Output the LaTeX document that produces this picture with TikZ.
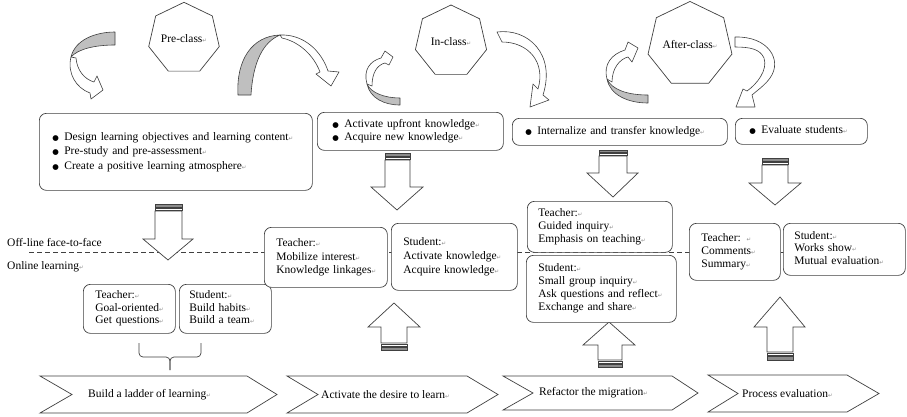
\documentclass[tikz,border=0pt]{standalone}
\usepackage{fontspec}
\setmainfont{Liberation Serif}
\newfontfamily\symf{DejaVu Sans}
\usetikzlibrary{shapes.geometric}
\newcommand\retm{{\symf\fontsize{5.5}{5.5}\selectfont\color{black!45}↵}}
\newcommand\bulm{\makebox[12pt][l]{\symf\fontsize{7.5}{7.5}\selectfont ●}}
\begin{document}
\begin{tikzpicture}[x=1pt,y=-1pt,
  ol/.style={draw=black!75, line width=0.7pt},
  bx/.style={ol, rounded corners=7pt, fill=white, align=left, anchor=north west, inner ysep=0pt, text=black},
  hept/.style={ol, regular polygon, regular polygon sides=7, inner sep=0pt, fill=white, font=\fontsize{11.5}{13}\selectfont, text=black},
  bandw/.style={ol, fill=white, line join=round, line width=0.6pt},
  bandg/.style={ol, fill=black!25, line join=round, line width=0.6pt},
  blk/.style={ol, fill=white, line join=miter},
  strd/.style={ol, fill=black!45, line width=0.5pt},
  strw/.style={ol, fill=white, line width=0.5pt},
  chev/.style={ol, fill=white, line join=miter},
  lbl/.style={font=\fontsize{11.5}{13}\selectfont, anchor=west, inner sep=0pt, text=black}
]
\useasboundingbox (0,0) rectangle (907,416);
\fill[white] (0,0) rectangle (907,416);

% dashed divider
\coordinate (dl) at (29,252.5);
\coordinate (dr) at (790,252.5);
\draw[black!75, line width=0.9pt, dash pattern=on 5pt off 3pt] (dl) -- (dr);

% heptagons
\node[hept, minimum size=70pt] (pre) at (184,38.5) {Pre-class\retm};
\node[hept, minimum size=73pt] (in) at (451,41.5) {In-class\retm};
\node[hept, minimum size=71pt] (after) at (690,44.5) {After-class\retm};

% curved arrows
% A
\draw[bandw] (71,57) .. controls (67,73) and (76,88) .. (90,93) -- (91,99) -- (103,90) -- (97,76) -- (94,82) .. controls (84,79) and (77,70) .. (76,58) -- cycle;
\draw[bandg] (115,32) .. controls (95,32) and (75,40) .. (71,57) .. controls (78,49) and (95,45) .. (115,45) -- cycle;
% B
\draw[bandw] (280,35) .. controls (303,34) and (321,50) .. (328,71) -- (339,72) -- (331,86) -- (316,74) -- (320,72) .. controls (314,56) and (300,42) .. (282,38) -- cycle;
\draw[bandg] (238,95) .. controls (236,60) and (252,36) .. (280,35) .. controls (263,42) and (253,62) .. (251,95) -- cycle;
% C
\draw[bandw] (497,32) .. controls (528,28) and (556,54) .. (543,95) -- (549,100) -- (530,107) -- (533,84) -- (538,89) .. controls (546,62) and (528,42) .. (502,42) -- cycle;
% D
\draw[bandw] (367,84) .. controls (363,70) and (370,61) .. (381,58) -- (385,51) -- (393,57) -- (389,65) -- (385,63) .. controls (377,65) and (372,73) .. (372,86) -- cycle;
\draw[bandg] (400,98) .. controls (385,98) and (371,93) .. (367,84) .. controls (370,98) and (384,105) .. (400,105) -- cycle;
% E
\draw[bandw] (607,79) .. controls (603,64) and (612,54) .. (625,50) -- (628,42) -- (638,48) -- (632,62) -- (628,57) .. controls (620,59) and (612,68) .. (612,82) -- cycle;
\draw[bandg] (648,95) .. controls (628,95) and (612,90) .. (607,79) .. controls (610,95) and (628,103) .. (648,103) -- cycle;
% F
\draw[bandw] (735,37) .. controls (768,36) and (783,60) .. (770,78) .. controls (765,85) and (759,89) .. (752,95) -- (755,107) -- (736,107) -- (743,89) -- (747,91) .. controls (757,84) and (768,70) .. (764,58) .. controls (760,49) and (750,47) .. (735,47) -- cycle;

% top boxes
\node[bx, inner xsep=13pt, text width=247pt, minimum height=77pt, font=\fontsize{11.5}{14.5}\selectfont] (b1) at (39,113)
  {\begin{tabular}{@{}l@{}}\bulm Design learning objectives and learning content\retm\\ \bulm Pre-study and pre-assessment\retm\\ \bulm Create a positive learning atmosphere\retm\end{tabular}};
\node[bx, inner xsep=15pt, text width=156pt, minimum height=38pt, font=\fontsize{11.5}{12.5}\selectfont] (b2) at (317,112)
  {\begin{tabular}{@{}l@{}}\bulm Activate upfront knowledge\retm\\ \bulm Acquire new knowledge\retm\end{tabular}};
\node[bx, inner xsep=13pt, text width=189pt, minimum height=27pt, font=\fontsize{11.5}{13}\selectfont] (b3) at (512,118)
  {\begin{tabular}{@{}l@{}}\bulm Internalize and transfer knowledge\retm\end{tabular}};
\node[bx, inner xsep=14pt, text width=104pt, minimum height=26pt, font=\fontsize{11.5}{13}\selectfont] (b4) at (735,118)
  {\begin{tabular}{@{}l@{}}\bulm Evaluate students\retm\end{tabular}};

% down arrows
\filldraw[strd] (155,204) rectangle (182,207);
\filldraw[strw] (155,208) rectangle (182,210.5);
\draw[blk] (155,211) -- (182,211) -- (182,239) -- (193,239) -- (168,260) -- (143,239) -- (155,239) -- cycle;

\filldraw[strd] (385,153) rectangle (410,156);
\filldraw[strw] (385,157) rectangle (410,159.5);
\draw[blk] (385,160) -- (410,160) -- (410,187) -- (423,187) -- (397,210) -- (371,187) -- (385,187) -- cycle;

\filldraw[strd] (599,150) rectangle (627,152.5);
\filldraw[strw] (599,153.5) rectangle (627,155.5);
\draw[blk] (599,156) -- (627,156) -- (627,173) -- (638,173) -- (613,197) -- (587,173) -- (599,173) -- cycle;

\filldraw[strd] (762,158) rectangle (788,161);
\filldraw[strw] (762,162) rectangle (788,164);
\draw[blk] (762,165) -- (788,165) -- (788,183) -- (801,183) -- (775,205) -- (749,183) -- (762,183) -- cycle;

% up arrows
\draw[blk] (381,343) -- (381,327) -- (368,327) -- (394,303) -- (420,327) -- (407,327) -- (407,343) -- cycle;
\filldraw[strw] (381,344) rectangle (407,346.5);
\filldraw[strd] (381,347.5) rectangle (407,350);

\draw[blk] (598,360) -- (598,345) -- (583,345) -- (609,322) -- (635,345) -- (622,345) -- (622,360) -- cycle;
\filldraw[strw] (598,361) rectangle (622,363);
\filldraw[strd] (598,364) rectangle (622,367);

\draw[blk] (767,352) -- (767,327) -- (754,327) -- (780,297) -- (805,327) -- (793,327) -- (793,352) -- cycle;
\filldraw[strw] (767,353) rectangle (793,355.5);
\filldraw[strd] (767,356.5) rectangle (793,360);

% side labels
\node[lbl] (off) at (7,242) {Off-line face-to-face};
\node[lbl] (on) at (7,267) {Online learning\retm};

% teacher / student boxes
\node[bx, inner xsep=12pt, text width=68pt, minimum height=49pt, font=\fontsize{11.5}{12.5}\selectfont] (t1) at (83,284)
  {\begin{tabular}{@{}l@{}}Teacher:\retm\\ Goal-oriented\retm\\ Get questions\retm\end{tabular}};
\node[bx, inner xsep=10pt, text width=72pt, minimum height=49pt, font=\fontsize{11.5}{12.5}\selectfont] (s1) at (179,284)
  {\begin{tabular}{@{}l@{}}Student:\retm\\ Build habits\retm\\ Build a team\retm\end{tabular}};
\node[bx, inner xsep=12pt, text width=99pt, minimum height=60pt, font=\fontsize{11.5}{13.5}\selectfont] (t2) at (264,227)
  {\begin{tabular}{@{}l@{}}Teacher:\retm\\ Mobilize interest\retm\\ Knowledge linkages\retm\end{tabular}};
\node[bx, inner xsep=12pt, text width=102pt, minimum height=67pt, font=\fontsize{11.5}{14}\selectfont] (s2) at (391,223)
  {\begin{tabular}{@{}l@{}}Student:\retm\\ Activate knowledge\retm\\ Acquire knowledge\retm\end{tabular}};
\node[bx, inner xsep=11pt, text width=123pt, minimum height=51pt, font=\fontsize{11.5}{13}\selectfont] (t3) at (527,201)
  {\begin{tabular}{@{}l@{}}Teacher:\retm\\ Guided inquiry\retm\\ Emphasis on teaching\retm\end{tabular}};
\node[bx, inner xsep=12pt, text width=126pt, minimum height=67pt, font=\fontsize{11.5}{13}\selectfont] (s3) at (526,255)
  {\begin{tabular}{@{}l@{}}Student:\retm\\ Small group inquiry\retm\\ Ask questions and reflect\retm\\ Exchange and share\retm\end{tabular}};
\node[bx, inner xsep=12pt, text width=67pt, minimum height=57pt, font=\fontsize{11.5}{13}\selectfont] (t4) at (689,223)
  {\begin{tabular}{@{}l@{}}Teacher: \retm\\ Comments\retm\\ Summary\retm\end{tabular}};
\node[bx, inner xsep=11pt, text width=100pt, minimum height=52pt, font=\fontsize{11.5}{12.5}\selectfont] (s4) at (783,223)
  {\begin{tabular}{@{}l@{}}Student:\retm\\ Works show\retm\\ Mutual evaluation\retm\end{tabular}};

% bracket
\draw[ol, rounded corners=4pt] (139,343) -- (139,357) -- (170,357) -- (170,370);
\draw[ol, rounded corners=4pt] (201,343) -- (201,357) -- (170,357) -- (170,370);

% chevrons
\draw[chev] (40,376) -- (247,376) -- (277,394.5) -- (247,413) -- (40,413) -- (72,394.5) -- cycle;
\draw[chev] (287,376) -- (467,376) -- (498,394.5) -- (467,413) -- (287,413) -- (318,394.5) -- cycle;
\draw[chev] (503,376) -- (672,376) -- (698,393) -- (672,410) -- (503,410) -- (533,393) -- cycle;
\draw[chev] (708,375) -- (847,375) -- (879,393.5) -- (847,412) -- (708,412) -- (738,393.5) -- cycle;
\node[lbl] (c1) at (88,394.5) {Build a ladder of learning\retm};
\node[lbl] (c2) at (321,394.5) {Activate the desire to learn\retm};
\node[lbl] (c3) at (539,393) {Refactor the migration\retm};
\node[lbl] (c4) at (742,393.5) {Process evaluation\retm};
\end{tikzpicture}
\end{document}
